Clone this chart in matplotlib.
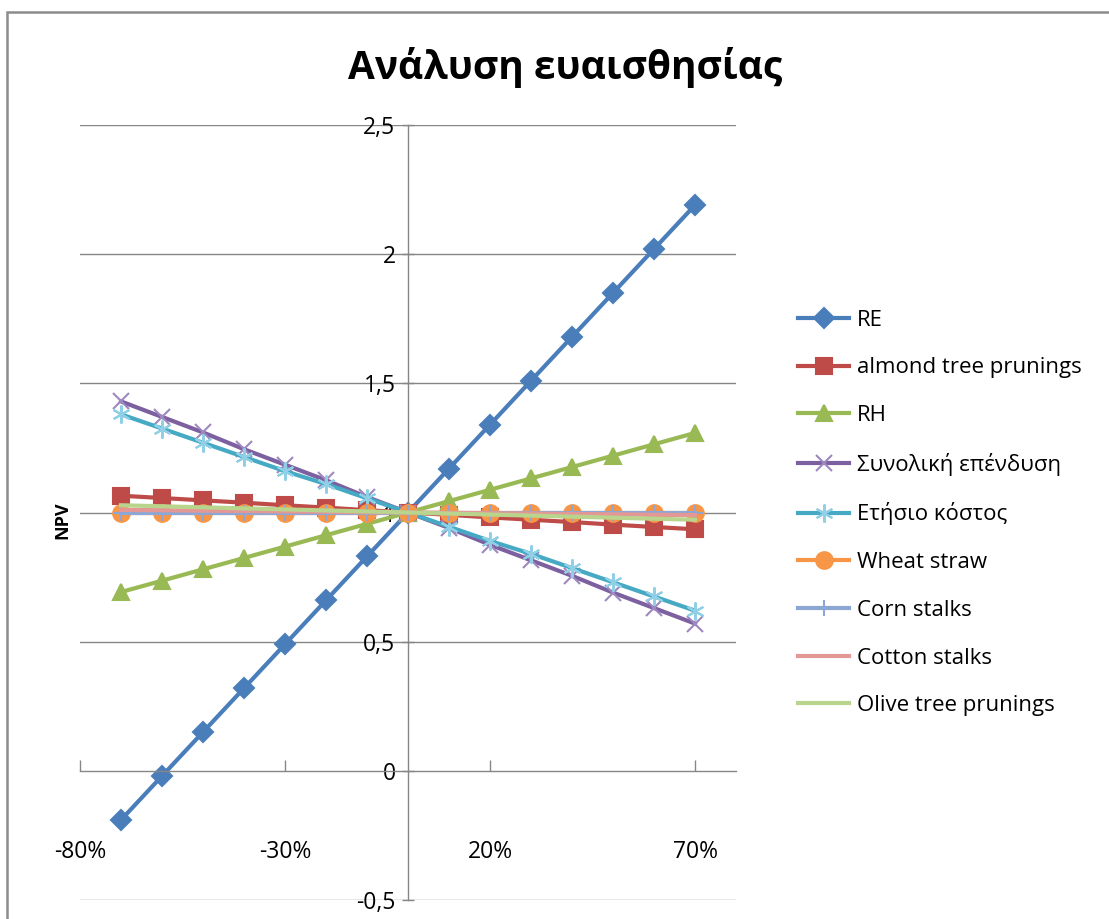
import matplotlib
matplotlib.use("Agg")
import matplotlib.pyplot as plt
from matplotlib.patches import Rectangle

plt.rcParams['font.family'] = ['Open Sans', 'DejaVu Sans']

x_vals = [-0.7, -0.6, -0.5, -0.4, -0.3, -0.2, -0.1, 0.0, 0.1, 0.2, 0.3, 0.4, 0.5, 0.6, 0.7]

re_vals = [-0.19, -0.02, 0.15, 0.32, 0.49, 0.66, 0.83, 1.0, 1.17, 1.34, 1.51, 1.68, 1.85, 2.02, 2.19]
almond_vals = [1.065, 1.056, 1.047, 1.038, 1.028, 1.019, 1.009, 1.0, 0.991, 0.981, 0.972, 0.963, 0.953, 0.944, 0.935]
rh_vals = [0.692, 0.736, 0.78, 0.824, 0.868, 0.912, 0.956, 1.0, 1.044, 1.088, 1.132, 1.176, 1.22, 1.264, 1.308]
invest_vals = [1.43, 1.37, 1.31, 1.245, 1.185, 1.125, 1.06, 1.0, 0.94, 0.875, 0.815, 0.755, 0.69, 0.63, 0.57]
annual_vals = [1.38, 1.325, 1.27, 1.215, 1.16, 1.11, 1.055, 1.0, 0.945, 0.89, 0.84, 0.785, 0.73, 0.675, 0.62]
wheat_vals = [1.0, 1.0, 1.0, 1.0, 1.0, 1.0, 1.0, 1.0, 1.0, 1.0, 1.0, 1.0, 1.0, 1.0, 1.0]
corn_vals = [1.0, 1.0, 1.0, 1.0, 1.0, 1.0, 1.0, 1.0, 1.0, 1.0, 1.0, 1.0, 1.0, 1.0, 1.0]
cotton_vals = [1.01, 1.009, 1.007, 1.006, 1.004, 1.003, 1.001, 1.0, 0.999, 0.997, 0.996, 0.994, 0.993, 0.991, 0.99]
olive_vals = [1.028, 1.024, 1.02, 1.016, 1.012, 1.008, 1.004, 1.0, 0.996, 0.992, 0.988, 0.984, 0.98, 0.976, 0.972]

series_names = ["RE", "almond tree prunings", "RH", "Συνολική επένδυση", "Ετήσιο κόστος",
                "Wheat straw", "Corn stalks", "Cotton stalks", "Olive tree prunings"]

x_ticks = [-0.8, -0.3, 0.2, 0.7]
x_tick_labels = ["-80%", "-30%", "20%", "70%"]
y_ticks = [-0.5, 0, 0.5, 1, 1.5, 2, 2.5]
y_tick_labels = ["-0,5", "0", "0,5", "1", "1,5", "2", "2,5"]

W, H = 1109, 919
fig = plt.figure(figsize=(W / 100, H / 100), dpi=100)
fig.patch.set_facecolor('white')

# outer chart frame
fig.patches.append(Rectangle((7 / W, -0.1), 1.2, 1 - 12 / H + 0.1, transform=fig.transFigure,
                             fill=False, edgecolor='#8c8c8c', linewidth=1.8))

ax = fig.add_axes([80 / W, 1 - 900 / H, 656 / W, (900 - 125) / H])
ax.set_xlim(-0.8, 0.8)
ax.set_ylim(-0.5, 2.5)

for yv in y_ticks:
    if yv != 0:
        ax.axhline(yv, color='#868686', lw=1.0, zorder=0)

for s in ['top', 'right']:
    ax.spines[s].set_visible(False)
ax.spines['left'].set_position(('data', 0))
ax.spines['bottom'].set_position(('data', 0))
for s in ['left', 'bottom']:
    ax.spines[s].set_color('#868686')
    ax.spines[s].set_linewidth(1.0)

ax.set_xticks(x_ticks)
ax.set_xticklabels(x_tick_labels)
ax.set_yticks(y_ticks)
ax.set_yticklabels(y_tick_labels)
ax.tick_params(axis='x', direction='in', length=8, width=1, color='#868686', pad=50, labelsize=16.5)
ax.tick_params(axis='y', direction='inout', length=8, width=1, color='#868686', pad=5, labelsize=16.5)

styles = [
    (re_vals, '#4A7EBB', 'D', 10, '#4A7EBB'),
    (almond_vals, '#BE4B48', 's', 11, '#BE4B48'),
    (rh_vals, '#98B954', '^', 12, '#98B954'),
    (invest_vals, '#7D60A0', 'x', 11, '#9D88BF'),
    (annual_vals, '#46AAC5', (6, 2, 0), 13, '#8FD0E6'),
    (wheat_vals, '#F79646', 'o', 12, '#F79646'),
    (corn_vals, '#8CA7D5', '+', 12, '#8CA7D5'),
    (cotton_vals, '#E39895', None, 0, '#E39895'),
    (olive_vals, '#B8D48D', None, 0, '#B8D48D'),
]

for i, ((vals, col, mk, ms, mcol), name) in enumerate(zip(styles, series_names)):
    ax.plot(x_vals, vals, color=col, lw=3.0, marker=mk, markersize=ms,
            markerfacecolor=mcol, markeredgecolor=mcol, markeredgewidth=1.5,
            label=name, zorder=2 + i, clip_on=False)

fig.text(62 / W, 1 - 520 / H, "NPV", fontsize=13, fontweight='bold', rotation=90,
         ha='center', va='center')

fig.text(565 / W, 1 - 68 / H, "Ανάλυση ευαισθησίας", fontsize=28, fontweight='bold',
         ha='center', va='center')

handles, labels = ax.get_legend_handles_labels()
leg = fig.legend(handles, labels, loc='center left', bbox_to_anchor=(798 / W, 1 - 513 / H),
                 frameon=False, fontsize=16, handlelength=2.3, handletextpad=0.35,
                 labelspacing=1.2, borderaxespad=0, borderpad=0)

fig.savefig("out.png", dpi=100, facecolor='white')
